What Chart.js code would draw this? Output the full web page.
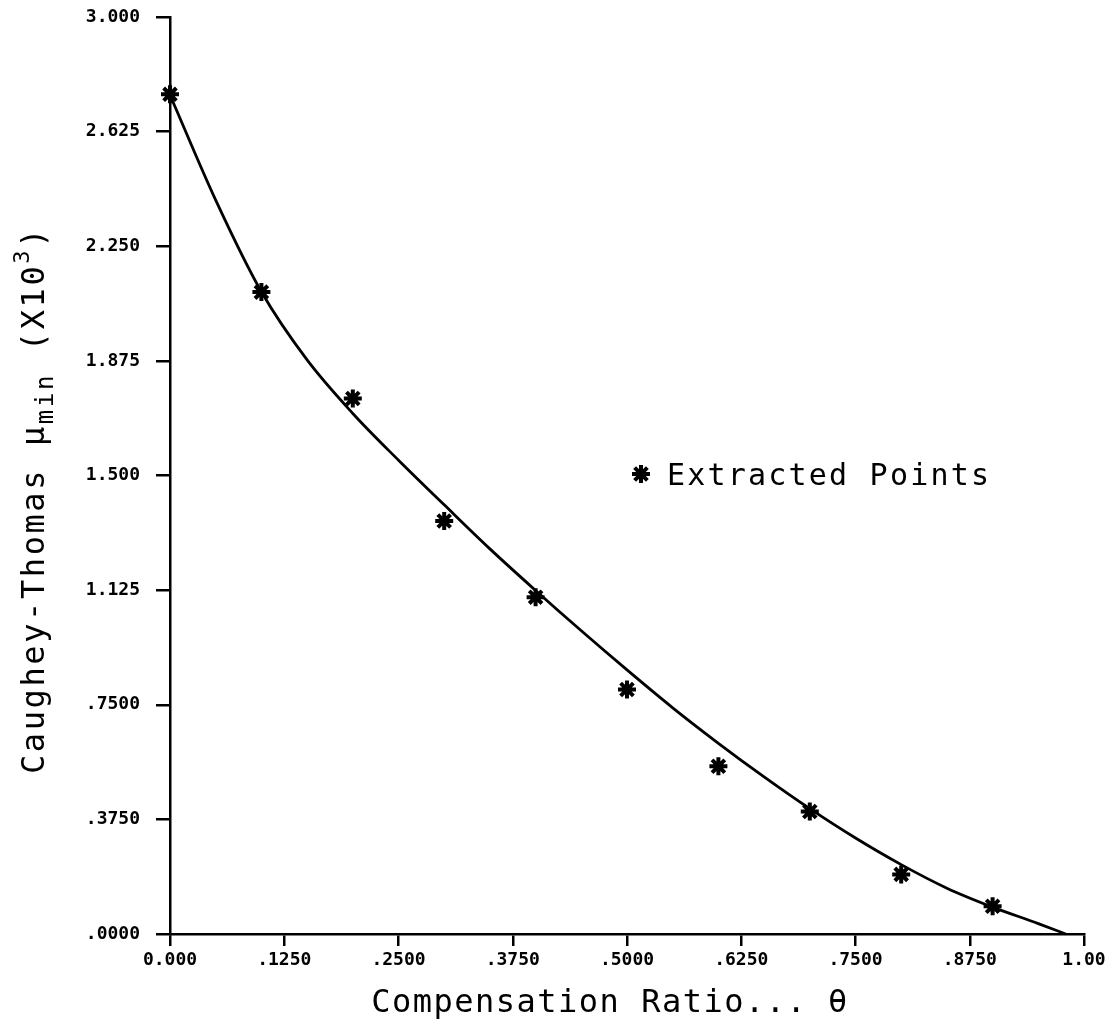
<!DOCTYPE html>
<html>
<head>
<meta charset="utf-8">
<script src="https://cdn.jsdelivr.net/npm/chart.js@4.4.1/dist/chart.umd.min.js"></script>
<style>
  html, body { margin: 0; padding: 0; background: #fff; }
  canvas { display: block; }
</style>
</head>
<body>
<canvas id="chart" width="1107" height="1035"></canvas>
<script>
// extracted points (compensation ratio, mu_min x10^3)
const pointTheta = [0.000, 0.100, 0.200, 0.300, 0.400, 0.500, 0.600, 0.700, 0.800, 0.900];
const pointMu    = [2.747, 2.100, 1.752, 1.351, 1.102, 0.800, 0.549, 0.401, 0.195, 0.091];

// fitted curve
const curveTheta = [0.000, 0.050, 0.100, 0.150, 0.200, 0.250, 0.300, 0.350, 0.400, 0.450,
                    0.500, 0.550, 0.600, 0.650, 0.700, 0.750, 0.800, 0.850, 0.900, 0.950,
                    0.980];
const curveMu    = [2.745, 2.401, 2.101, 1.878, 1.703, 1.550, 1.404, 1.260, 1.124, 0.992,
                    0.864, 0.740, 0.624, 0.514, 0.410, 0.314, 0.227, 0.150, 0.088, 0.034,
                    0.000];

// axis ticks
const xTickValues = [0, 0.125, 0.25, 0.375, 0.5, 0.625, 0.75, 0.875, 1];
const xTickLabels = ['0.000', '.1250', '.2500', '.3750', '.5000', '.6250', '.7500', '.8750', '1.00'];
const yTickValues = [0, 0.375, 0.75, 1.125, 1.5, 1.875, 2.25, 2.625, 3];
const yTickLabels = ['.0000', '.3750', '.7500', '1.125', '1.500', '1.875', '2.250', '2.625', '3.000'];

const ink = '#000';
const mono = '"DejaVu Sans Mono", "Liberation Mono", monospace';

// axis titles and the in-plot legend
const annotate = {
  id: 'annotate',
  afterDraw(chart) {
    const { ctx } = chart;
    ctx.save();
    ctx.fillStyle = ink;
    ctx.textBaseline = 'alphabetic';

    // x title
    ctx.font = '32px ' + mono;
    ctx.letterSpacing = '1.5px';
    ctx.textAlign = 'center';
    ctx.fillText('Compensation Ratio... \u03b8', 610, 1012);

    // y title, rotated, with sub/superscript
    const parts = [
      { t: 'Caughey-Thomas \u03bc', size: 32, dy: 0 },
      { t: 'min', size: 24, dy: 9 },
      { t: ' (X10', size: 32, dy: 0 },
      { t: '3', size: 22, dy: -15 },
      { t: ')', size: 32, dy: 0 }
    ];
    ctx.textAlign = 'left';
    ctx.letterSpacing = '2.6px';
    let total = 0;
    parts.forEach(p => { ctx.font = p.size + 'px ' + mono; p.w = ctx.measureText(p.t).width; total += p.w; });
    ctx.translate(44, 500);
    ctx.rotate(-Math.PI / 2);
    let px = -total / 2;
    parts.forEach(p => {
      ctx.font = p.size + 'px ' + mono;
      ctx.fillText(p.t, px, p.dy);
      px += p.w;
    });
    ctx.restore();

    // legend
    ctx.save();
    ctx.fillStyle = ink;
    ctx.font = '30px ' + mono;
    ctx.letterSpacing = '2.2px';
    ctx.textBaseline = 'middle';
    ctx.textAlign = 'left';
    Chart.helpers.drawPoint(ctx, {
      pointStyle: 'star', radius: 9, borderWidth: 2.5, rotation: 0
    }, 641, 474);
    ctx.fillText('Extracted Points', 667, 477);
    ctx.restore();
  }
};

new Chart(document.getElementById('chart'), {
  data: {
    datasets: [
      {
        type: 'line',
        label: 'Fit',
        data: curveTheta.map((t, i) => ({ x: t, y: curveMu[i] })),
        borderColor: ink,
        borderWidth: 2.8,
        pointRadius: 0,
        cubicInterpolationMode: 'monotone',
        fill: false,
        clip: false
      },
      {
        type: 'scatter',
        label: 'Extracted Points',
        data: pointTheta.map((t, i) => ({ x: t, y: pointMu[i] })),
        pointStyle: 'star',
        pointRadius: 9,
        borderWidth: 4,
        borderColor: ink,
        backgroundColor: ink,
        clip: false
      }
    ]
  },
  options: {
    responsive: false,
    animation: false,
    events: [],
    layout: { padding: { top: 17, right: 23, left: 0, bottom: 0 } },
    plugins: { legend: { display: false }, tooltip: { enabled: false } },
    scales: {
      x: {
        type: 'linear',
        min: 0,
        max: 1,
        afterBuildTicks: s => { s.ticks = xTickValues.map(v => ({ value: v })); },
        afterFit: s => { s.height = 101; s.paddingLeft = 0; s.paddingRight = 0; },
        ticks: {
          color: ink,
          padding: 4,
          maxRotation: 0,
          font: { family: mono, size: 18, weight: 'bold' },
          callback: (v, i) => xTickLabels[i]
        },
        grid: { display: true, drawOnChartArea: false, drawTicks: true, tickLength: 12, color: ink, lineWidth: 2.5 },
        border: { display: true, color: ink, width: 2.5 }
      },
      y: {
        type: 'linear',
        min: 0,
        max: 3,
        afterBuildTicks: s => { s.ticks = yTickValues.map(v => ({ value: v })); },
        afterFit: s => { s.width = 170; s.paddingTop = 0; s.paddingBottom = 0; },
        ticks: {
          color: ink,
          padding: 16,
          font: { family: mono, size: 18, weight: 'bold' },
          callback: (v, i) => yTickLabels[i]
        },
        grid: { display: true, drawOnChartArea: false, drawTicks: true, tickLength: 14, color: ink, lineWidth: 2.5 },
        border: { display: true, color: ink, width: 2.5 }
      }
    }
  },
  plugins: [annotate]
});
</script>
</body>
</html>
